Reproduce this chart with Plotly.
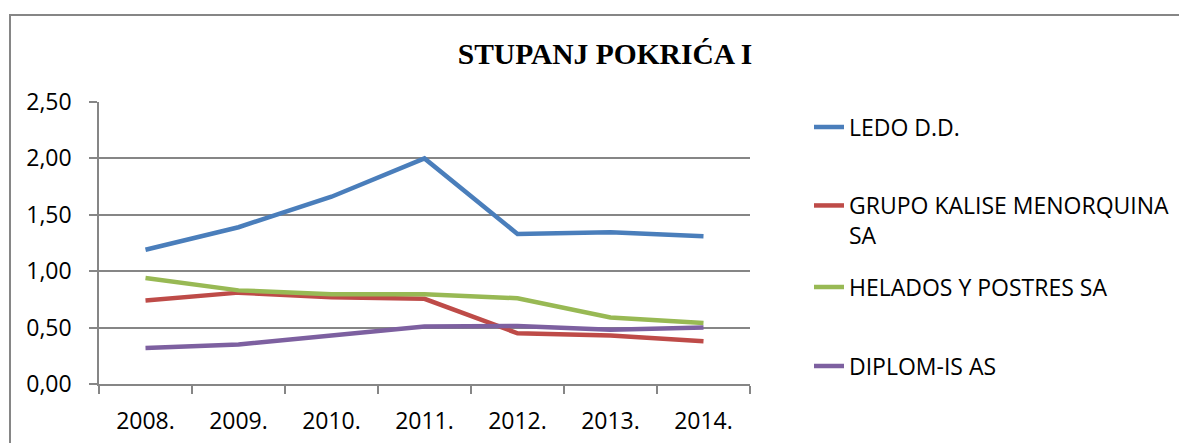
import plotly.graph_objects as go

years = ["2008.", "2009.", "2010.", "2011.", "2012.", "2013.", "2014."]
ledo = [1.19, 1.39, 1.66, 2.00, 1.33, 1.345, 1.31]
kalise = [0.74, 0.81, 0.77, 0.755, 0.45, 0.43, 0.38]
helados = [0.94, 0.83, 0.795, 0.795, 0.76, 0.59, 0.54]
diplom = [0.32, 0.35, 0.43, 0.51, 0.515, 0.48, 0.50]

names = ["LEDO D.D.", "GRUPO KALISE MENORQUINA<br>SA", "HELADOS Y POSTRES SA", "DIPLOM-IS AS"]
series = [ledo, kalise, helados, diplom]
colors = ["#4A7EBB", "#BE4B48", "#98B954", "#7D60A0"]
legend_ids = ["legend", "legend2", "legend3", "legend4"]

# page has an 8px body margin; work in page pixels and subtract it
OFF = 8
W, H = 1187 - OFF, 443 - OFF
L, R, T, B = 99 - OFF, 750 - OFF, 102 - OFF, 384 - OFF
pw, ph = R - L, B - T
legend_centers_px = [127 - OFF, 220.5 - OFF, 287 - OFF, 366 - OFF]

FONT = "Open Sans"
FS = 23

fig = go.Figure()
for nm, vals, col, lg in zip(names, series, colors, legend_ids):
    fig.add_trace(go.Scatter(x=years, y=vals, name=nm, mode="lines",
                             line=dict(color=col, width=4.5), legend=lg))


def py(p):
    return 1 - (p - T) / ph


def px(p):
    return (p - L) / pw


layout_legends = {}
for lg, cy in zip(legend_ids, legend_centers_px):
    layout_legends[lg] = dict(
        x=px(809 - OFF), xanchor="left",
        y=py(cy), yanchor="middle",
        font=dict(family=FONT, size=FS, color="#000000"),
        bgcolor="rgba(0,0,0,0)", valign="top", itemwidth=30,
    )

fig.update_layout(
    width=W, height=H,
    margin=dict(l=L, r=W - R, t=T, b=H - B, pad=0, autoexpand=False),
    paper_bgcolor="white", plot_bgcolor="white",
    separators=",.",
    font=dict(family=FONT, size=FS, color="#000000"),
    title=dict(text="<b>STUPANJ POKRIĆA I</b>", x=(605 - OFF) / W, xref="container",
               xanchor="center", y=1 - (53.5 - OFF) / H, yref="container", yanchor="middle",
               font=dict(family="Liberation Serif", size=29.5, color="#000000")),
    xaxis=dict(type="category", range=[-0.5, 6.5], showgrid=False, zeroline=False,
               automargin=False,
               showline=True, linecolor="#868686", linewidth=1.5,
               ticks="outside", ticklen=8, tickcolor="#868686", tickwidth=1.5,
               tickson="boundaries", ticklabelstandoff=16,
               tickfont=dict(family=FONT, size=FS, color="#000000")),
    yaxis=dict(range=[0, 2.5], dtick=0.5, tick0=0, tickformat=".2f",
               automargin=False,
               showgrid=True, gridcolor="#868686", gridwidth=1.5, zeroline=False,
               showline=True, linecolor="#868686", linewidth=1.5,
               ticks="outside", ticklen=8, tickcolor="#868686", tickwidth=1.5,
               ticklabelstandoff=13,
               tickfont=dict(family=FONT, size=FS, color="#000000")),
    showlegend=True,
    **layout_legends,
)

fig.add_shape(type="rect", xref="paper", yref="paper",
              x0=px(10 - OFF), x1=px(1200),
              y0=py(460), y1=py(15 - OFF),
              line=dict(color="#868686", width=2), fillcolor="rgba(0,0,0,0)",
              layer="below")

fig.write_html("out.html")
